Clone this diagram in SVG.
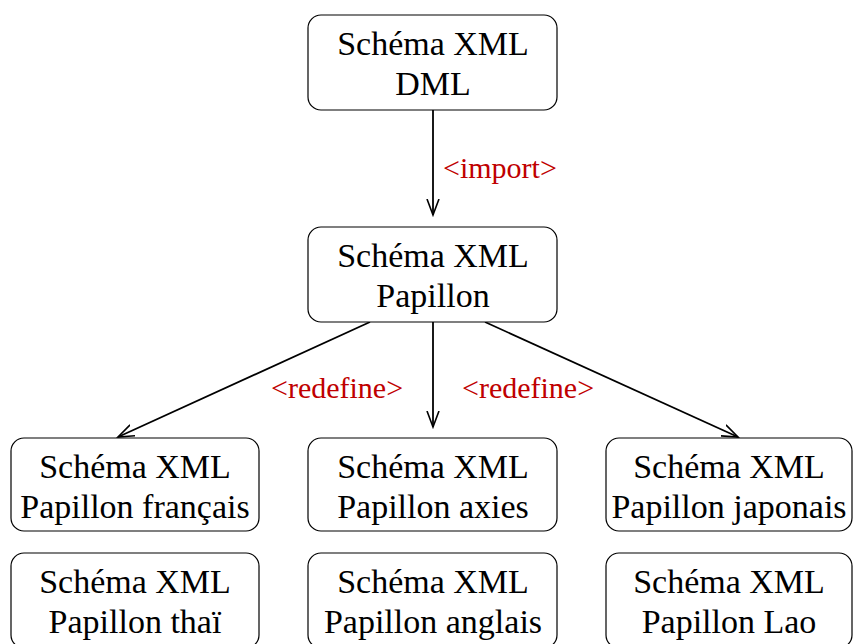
<svg xmlns="http://www.w3.org/2000/svg" width="853" height="644" viewBox="0 0 853 644">
<style>
.box{fill:#fff;stroke:#000;stroke-width:1.2}
.t{font-family:"Liberation Serif","Times New Roman",serif;font-size:34px;fill:#000;text-anchor:middle}
.lbl{font-family:"Liberation Serif","Times New Roman",serif;font-size:30px;fill:#c00000}
.c{stroke:#000;stroke-width:1.8;fill:none}
</style>
<defs>
<marker id="ah" markerWidth="18" markerHeight="14" refX="16" refY="6.5" orient="auto" markerUnits="userSpaceOnUse" viewBox="0 0 18 13">
<path d="M0,0.5 L16,6.5 L0,12.5" fill="none" stroke="#000" stroke-width="1.6"/>
</marker>
</defs>
<rect width="853" height="644" fill="#fff"/>
<g id="connectors">
<line class="c" x1="433" y1="110" x2="433" y2="215" marker-end="url(#ah)"/>
<line class="c" x1="370" y1="322" x2="118" y2="437" marker-end="url(#ah)"/>
<line class="c" x1="433" y1="322" x2="433" y2="427" marker-end="url(#ah)"/>
<line class="c" x1="485" y1="322" x2="738" y2="437" marker-end="url(#ah)"/>
<text class="lbl" x="443" y="178">&lt;import&gt;</text>
<text class="lbl" x="271" y="398">&lt;redefine&gt;</text>
<text class="lbl" x="462" y="398">&lt;redefine&gt;</text>
</g>
<g id="dml">
<rect class="box" x="308" y="15" width="249" height="95" rx="13"/>
<text class="t" x="433" y="55">Schéma XML</text>
<text class="t" x="433" y="95">DML</text>
</g>
<g id="papillon">
<rect class="box" x="308" y="227" width="249" height="95" rx="13"/>
<text class="t" x="433" y="267">Schéma XML</text>
<text class="t" x="433" y="307">Papillon</text>
</g>
<g id="francais">
<rect class="box" x="11" y="438" width="248" height="93" rx="13"/>
<text class="t" x="135" y="478">Schéma XML</text>
<text class="t" x="135" y="518">Papillon français</text>
</g>
<g id="axies">
<rect class="box" x="308" y="438" width="249" height="93" rx="13"/>
<text class="t" x="433" y="478">Schéma XML</text>
<text class="t" x="433" y="518">Papillon axies</text>
</g>
<g id="japonais">
<rect class="box" x="606" y="438" width="246" height="93" rx="13"/>
<text class="t" x="729" y="478">Schéma XML</text>
<text class="t" x="729" y="518">Papillon japonais</text>
</g>
<g id="thai">
<rect class="box" x="11" y="553" width="248" height="95" rx="13"/>
<text class="t" x="135" y="593">Schéma XML</text>
<text class="t" x="135" y="633">Papillon thaï</text>
</g>
<g id="anglais">
<rect class="box" x="308" y="553" width="249" height="95" rx="13"/>
<text class="t" x="433" y="593">Schéma XML</text>
<text class="t" x="433" y="633">Papillon anglais</text>
</g>
<g id="lao">
<rect class="box" x="606" y="553" width="246" height="95" rx="13"/>
<text class="t" x="729" y="593">Schéma XML</text>
<text class="t" x="729" y="633">Papillon Lao</text>
</g>
</svg>
